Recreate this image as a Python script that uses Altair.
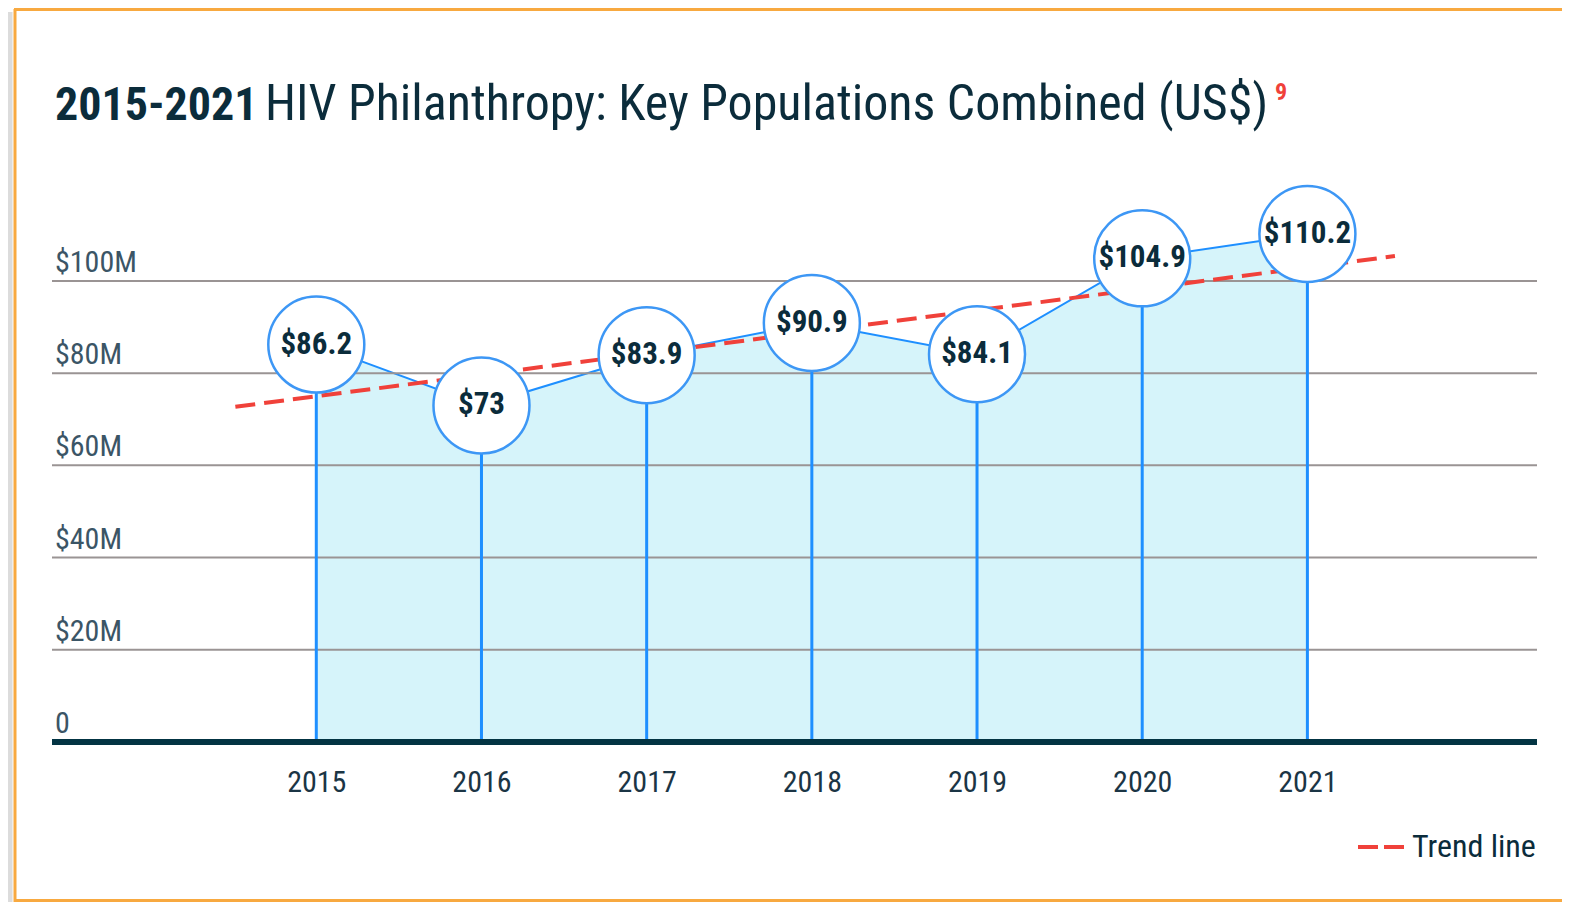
import altair as alt
import pandas as pd

# ---- data ----
years = [2015, 2016, 2017, 2018, 2019, 2020, 2021]
values = [86.2, 73.0, 83.9, 90.9, 84.1, 104.9, 110.2]
value_labels = ["$86.2", "$73", "$83.9", "$90.9", "$84.1", "$104.9", "$110.2"]
trend_years = [2014.51, 2021.53]
trend_values = [72.7, 105.4]
y_ticks = [0, 20, 40, 60, 80, 100]
y_tick_labels = ["0", "$20M", "$40M", "$60M", "$80M", "$100M"]

X_DOMAIN = [2013.40, 2022.39]
Y_DOMAIN = [0, 128.4]

FONT = "'Roboto Condensed', 'DejaVu Sans Condensed', sans-serif"
NAVY = "#0b2c3b"
BLUE = "#1e8fff"
RED = "#f0413a"
ORANGE = "#f8a940"

df = pd.DataFrame({"year": years, "value": values, "label": value_labels,
                   "base": [0] * len(years)})
trend = pd.DataFrame({"year": trend_years, "value": trend_values})
ticks = pd.DataFrame({"value": y_ticks, "label": y_tick_labels})
grid_df = ticks[ticks["value"] > 0]
zero_df = ticks[ticks["value"] == 0]
one = pd.DataFrame({"a": [0]})

xs = alt.Scale(domain=X_DOMAIN, nice=False, zero=False)
ys = alt.Scale(domain=Y_DOMAIN, nice=False, zero=False)

X = alt.X("year:Q", scale=xs, title=None, axis=alt.Axis(
    values=years, format="d", grid=False, ticks=False, domain=False,
    labelFont=FONT, labelFontSize=30, labelColor="#1b3545", labelPadding=25))
Y = alt.Y("value:Q", scale=ys, axis=None)

base = alt.Chart(df)

area = base.mark_area(color="#d6f4fa", opacity=1,
                      line={"color": BLUE, "strokeWidth": 2}).encode(x=X, y=Y)

grid = alt.Chart(grid_df).mark_rule(color="#9a9494", strokeWidth=2).encode(y=Y)

ylabels = alt.Chart(ticks).mark_text(
    align="left", baseline="alphabetic", dy=-9, font=FONT, fontSize=30,
    color="#3b5566").encode(x=alt.value(3), y=Y, text="label:N")

drops = base.mark_rule(color=BLUE, strokeWidth=3).encode(x=X, y=Y, y2="base:Q")

zero = alt.Chart(zero_df).mark_rule(color="#033443", strokeWidth=6).encode(y=Y)

trend_line = alt.Chart(trend).mark_line(
    color=RED, strokeWidth=4, strokeDash=[20, 9]).encode(x=X, y=Y)

circles = base.mark_point(shape="circle", filled=True, fill="white", stroke="#3d97f5",
                          strokeWidth=2.5, size=9216, opacity=1).encode(x=X, y=Y)

labels = base.mark_text(font=FONT, fontWeight="bold", fontSize=31, color=NAVY,
                        align="center", baseline="middle").encode(x=X, y=Y, text="label:N")

# title pieces
title_bold = alt.Chart(one).mark_text(font=FONT, fontWeight="bold", fontSize=46, color=NAVY,
                                      align="left", baseline="alphabetic",
                                      text="2015-2021").encode(
    x=alt.value(3), y=alt.value(-30))
title_reg = alt.Chart(one).mark_text(font=FONT, fontSize=50, color=NAVY,
                                     align="left", baseline="alphabetic",
                                     text="HIV Philanthropy: Key Populations Combined (US$)").encode(
    x=alt.value(213), y=alt.value(-30))
title_sup = alt.Chart(one).mark_text(font=FONT, fontWeight="bold", fontSize=24, color=RED,
                                     align="left", baseline="alphabetic", text="9").encode(
    x=alt.value(1223), y=alt.value(-50))

# legend
leg_line = alt.Chart(one).mark_rule(color=RED, strokeWidth=4, strokeDash=[20, 6]).encode(
    x=alt.value(1306), x2=alt.value(1353), y=alt.value(697))
leg_text = alt.Chart(one).mark_text(font=FONT, fontSize=32, color=NAVY, align="left",
                                    baseline="alphabetic", text="Trend line").encode(
    x=alt.value(1360), y=alt.value(707))

# frame
shadow = alt.Chart(one).mark_rule(color="#dcdcdc", strokeWidth=5).encode(
    x=alt.value(-42), y=alt.value(-138), y2=alt.value(752))
frame_left = alt.Chart(one).mark_rule(color=ORANGE, strokeWidth=3).encode(
    x=alt.value(-37), y=alt.value(-141), y2=alt.value(752))
frame_top = alt.Chart(one).mark_rule(color=ORANGE, strokeWidth=3).encode(
    x=alt.value(-38), x2=alt.value(1540), y=alt.value(-140.5))
frame_bottom = alt.Chart(one).mark_rule(color=ORANGE, strokeWidth=3).encode(
    x=alt.value(-38), x2=alt.value(1540), y=alt.value(750.5))

chart = alt.layer(
    area, grid, drops, zero, ylabels, trend_line, circles, labels,
    shadow, frame_left, frame_top, frame_bottom,
    title_bold, title_reg, title_sup, leg_line, leg_text
).properties(
    width=1485, height=592,
    autosize=alt.AutoSizeParams(type="none"),
    padding={"left": 44, "top": 142, "right": 25, "bottom": 160},
    background="white",
).configure_view(stroke=None)

chart.save("out.html", embed_options={"renderer": "svg", "actions": False})
